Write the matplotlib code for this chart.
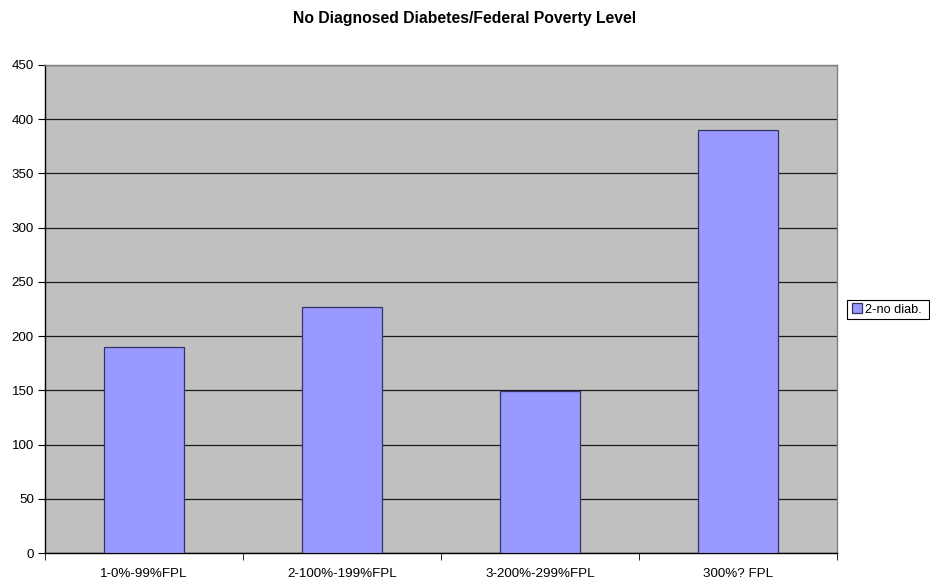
import matplotlib
matplotlib.use("Agg")
import matplotlib.pyplot as plt
from matplotlib.patches import Rectangle
import numpy as np

categories = ["1-0%-99%FPL", "2-100%-199%FPL", "3-200%-299%FPL", "300%? FPL"]
values = [190, 227, 149, 390]
series_name = "2-no diab."
title = "No Diagnosed Diabetes/Federal Poverty Level"

plt.rcParams['font.family'] = ['Liberation Sans', 'DejaVu Sans']

W, H = 930, 582
fig = plt.figure(figsize=(W / 100, H / 100), dpi=100)
ax = fig.add_axes([45/W, 29/H, 792/W, 488/H])
ax.set_facecolor('#c0c0c0')

x = np.arange(len(categories))
ax.bar(x, values, width=0.4, color='#9999ff', edgecolor='#333366', linewidth=0.9,
       label=series_name, zorder=3)

ax.set_xlim(-0.5, len(categories) - 0.5)
ax.set_ylim(0, 450)
ax.set_yticks(np.arange(0, 451, 50))
ax.yaxis.grid(True, color='#1a1a1a', linewidth=0.9, zorder=1)
ax.set_axisbelow(True)

ax.set_xticks(x)
ax.set_xticklabels(categories, fontsize=9.6)
ax.tick_params(axis='x', length=0, pad=10.5)
ax.set_xticks(np.arange(-0.5, len(categories), 1), minor=True)
ax.tick_params(axis='x', which='minor', length=5, color='#000000', direction='out')
ax.tick_params(axis='y', labelsize=9.6, length=5, direction='out', pad=3)

for side in ['top', 'right']:
    ax.spines[side].set_color('#808080')
    ax.spines[side].set_linewidth(1.0)
for side in ['left', 'bottom']:
    ax.spines[side].set_color('#000000')
    ax.spines[side].set_linewidth(1.0)

fig.text(0.5, 1 - 19/H, title, ha='center', va='center', fontsize=11.3, fontweight='bold')

# legend box
fig.patches.append(Rectangle((847/W, 1 - 319/H), 82/W, 19/H, transform=fig.transFigure,
                             facecolor='white', edgecolor='#000000', linewidth=0.8))
leg = fig.legend(loc='center left', bbox_to_anchor=(852/W, 1 - 309.5/H), fontsize=9.2,
                 frameon=False, borderpad=0.0,
                 handlelength=0.75, handleheight=0.75, handletextpad=0.25, borderaxespad=0)

fig.savefig("out.png", dpi=100)
